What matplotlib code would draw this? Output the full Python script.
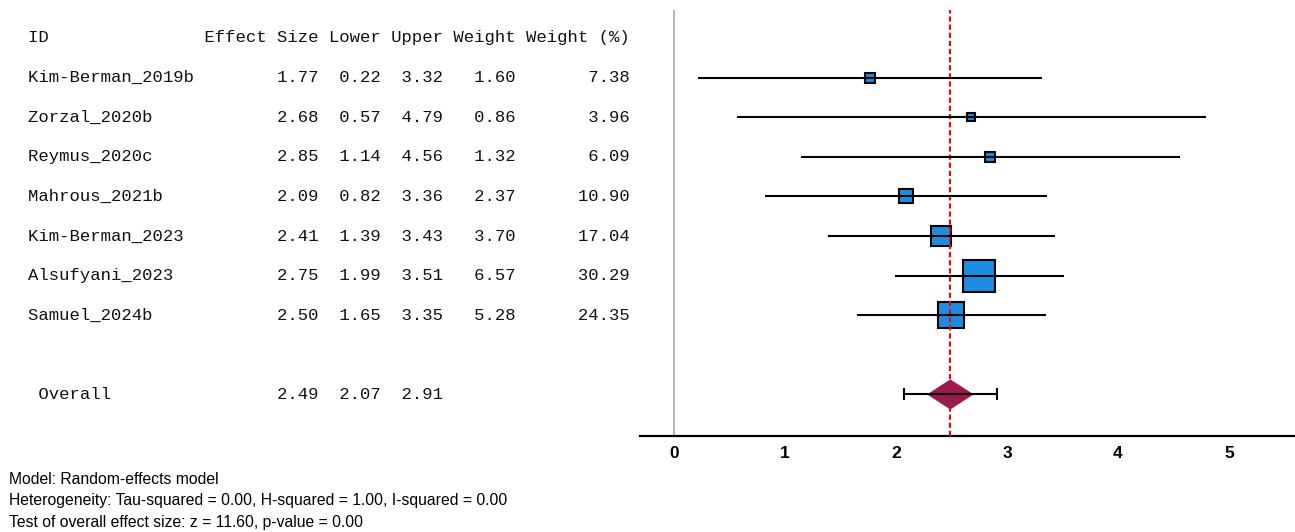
import matplotlib
matplotlib.use("Agg")
import matplotlib.pyplot as plt
from matplotlib.patches import Polygon
from matplotlib.transforms import blended_transform_factory

# ---- data ----
study_ids = ["Kim-Berman_2019b", "Zorzal_2020b", "Reymus_2020c", "Mahrous_2021b",
             "Kim-Berman_2023", "Alsufyani_2023", "Samuel_2024b"]
effect = [1.77, 2.68, 2.85, 2.09, 2.41, 2.75, 2.50]
lower = [0.22, 0.57, 1.14, 0.82, 1.39, 1.99, 1.65]
upper = [3.32, 4.79, 4.56, 3.36, 3.43, 3.51, 3.35]
weight = [1.60, 0.86, 1.32, 2.37, 3.70, 6.57, 5.28]
weight_pct = [7.38, 3.96, 6.09, 10.90, 17.04, 30.29, 24.35]
overall_label = "Overall"
overall_est, overall_lo, overall_hi = 2.49, 2.07, 2.91
x_ticks = [0, 1, 2, 3, 4, 5]
footnotes = [
    "Model: Random-effects model",
    "Heterogeneity: Tau-squared = 0.00, H-squared = 1.00, I-squared = 0.00",
    "Test of overall effect size: z = 11.60, p-value = 0.00",
]

W, H = 1295, 532
fig = plt.figure(figsize=(W / 100, H / 100), dpi=100)
ax = fig.add_axes([640 / W, (H - 436) / H, 655 / W, 426 / H])

n = len(study_ids)
rows = list(range(1, n + 1))
overall_row = n + 2

ax.set_xlim(-0.306, 5.595)
ax.set_ylim(10.05, -0.707)

for s in ["top", "right", "left"]:
    ax.spines[s].set_visible(False)
ax.spines["bottom"].set_linewidth(1.6)
ax.spines["bottom"].set_color("black")
ax.set_yticks([])
ax.set_xticks(x_ticks)
ax.set_xticklabels([str(t) for t in x_ticks], fontfamily="Liberation Sans",
                   fontweight="bold", fontsize=12.5)
ax.tick_params(axis="x", length=0, pad=7)

# reference lines
ax.axvline(0, color="#a8a8a8", lw=1.2, zorder=1)
ax.axvline(overall_est, color="red", lw=1.5, ls=(0, (2.5, 1.4)), zorder=3)

# study CIs and squares
for r, e, lo, hi, wp in zip(rows, effect, lower, upper, weight_pct):
    ax.plot([lo, hi], [r, r], color="black", lw=1.5, zorder=4, solid_capstyle="butt")
    outer_px = 4.7 + 0.9 * wp
    ms = outer_px * 0.72 - 0.6
    ax.plot([e], [r], marker="s", ms=ms, mfc="#1b8ee2", mec="black", mew=1.5,
            zorder=2, linestyle="none")

# overall diamond
half_w = (overall_hi - overall_lo) / 4
half_h = 0.38
diamond = Polygon([(overall_est - half_w, overall_row), (overall_est, overall_row - half_h),
                   (overall_est + half_w, overall_row), (overall_est, overall_row + half_h)],
                  closed=True, facecolor="#9c1a4c", edgecolor="none", zorder=5)
ax.add_patch(diamond)
ax.errorbar([overall_est], [overall_row],
            xerr=[[overall_est - overall_lo], [overall_hi - overall_est]],
            fmt="none", ecolor="black", elinewidth=1.5, capsize=4.5, capthick=1.5, zorder=6)

# table text
tr = blended_transform_factory(fig.transFigure, ax.transData)
mono = dict(fontfamily="Liberation Mono", fontsize=12.4, va="center", ha="left",
            transform=tr, color="#111111")
x0 = 28 / W
header = f"{'ID':<17}{'Effect Size':>11}{'Lower':>6}{'Upper':>6}{'Weight':>7}{'Weight (%)':>11}"
ax.text(x0, 0, header, **mono)
for r, sid, e, lo, hi, w, wp in zip(rows, study_ids, effect, lower, upper, weight, weight_pct):
    line = f"{sid:<17}{e:>11.2f}{lo:>6.2f}{hi:>6.2f}{w:>7.2f}{wp:>11.2f}"
    ax.text(x0, r, line, **mono)
oline = f"{' ' + overall_label:<17}{overall_est:>11.2f}{overall_lo:>6.2f}{overall_hi:>6.2f}"
ax.text(x0, overall_row, oline, **mono)

# footnotes
for i, t in enumerate(footnotes):
    fig.text(9 / W, 1 - (480 + 21 * i) / H, t, fontfamily="Liberation Sans",
             fontsize=11.3, va="center", ha="left")

fig.savefig("out.png", dpi=100)
